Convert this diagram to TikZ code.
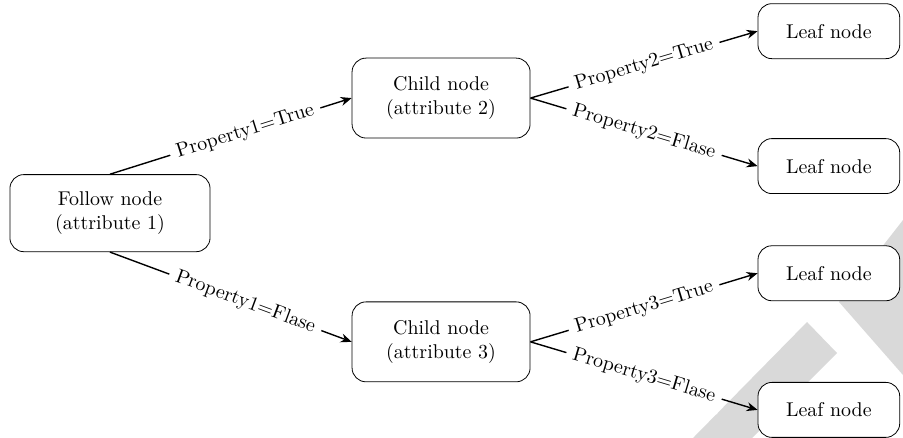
\documentclass[tikz,border=0pt]{standalone}
\usepackage{tikz}
\usetikzlibrary{shapes.geometric, arrows.meta}
\tikzstyle{rootbox} = [rectangle, rounded corners=7pt, minimum width=3.53cm, minimum height=1.36cm, text centered, align=center, draw=black, fill=white, inner sep=2pt]
\tikzstyle{childbox} = [rectangle, rounded corners=7pt, minimum width=3.14cm, minimum height=1.41cm, text centered, align=center, draw=black, fill=white, inner sep=2pt]
\tikzstyle{leafbox} = [rectangle, rounded corners=7pt, minimum width=2.5cm, minimum height=0.97cm, text centered, draw=black, fill=white, inner sep=2pt]
\tikzstyle{arrow} = [line width=0.7pt,->,>={Stealth[length=5.5pt,width=4.5pt]}]
\tikzstyle{cond} = [sloped, fill=white, inner sep=3.5pt]

\begin{document}
\begin{tikzpicture}[node distance=5.84cm]
\useasboundingbox (0,0) rectangle (15.928,-7.726);

% Watermark behind the tree
\fill[gray!30] (15.928,-3.881) -- (14.799,-5.327) -- (15.928,-6.615) -- cycle;
\fill[gray!30] (14.235,-5.680) -- (14.764,-6.227) -- (13.265,-7.726) -- (12.224,-7.726) -- cycle;

% Root node
\node (F) [rootbox] at (1.94,-3.76) {Follow node\\(attribute 1)};

% Child nodes
\node (c2) [childbox, right of=F, yshift=2.03cm] {Child node\\(attribute 2)};
\node (c3) [childbox, right of=F, yshift=-2.27cm] {Child node\\(attribute 3)};

% Leaf nodes
\node (l1) [leafbox, right of=c2, xshift=1cm, yshift=1.18cm] {Leaf node};
\node (l2) [leafbox, right of=c2, xshift=1cm, yshift=-1.20cm] {Leaf node};
\node (l3) [leafbox, right of=c3, xshift=1cm, yshift=1.21cm] {Leaf node};
\node (l4) [leafbox, right of=c3, xshift=1cm, yshift=-1.20cm] {Leaf node};

% Drawing arrows
\draw [arrow] (F.north) -- node[cond, pos=0.56] {Property1=True} (c2.west);
\draw [arrow] (F.south) -- node[cond, pos=0.56] {Property1=Flase} (c3.west);
\draw [arrow] (c2.east) -- node[cond] {Property2=True} (l1.west);
\draw [arrow] (c2.east) -- node[cond] {Property2=Flase} (l2.west);
\draw [arrow] (c3.east) -- node[cond] {Property3=True} (l3.west);
\draw [arrow] (c3.east) -- node[cond] {Property3=Flase} (l4.west);

\end{tikzpicture}
\end{document}
